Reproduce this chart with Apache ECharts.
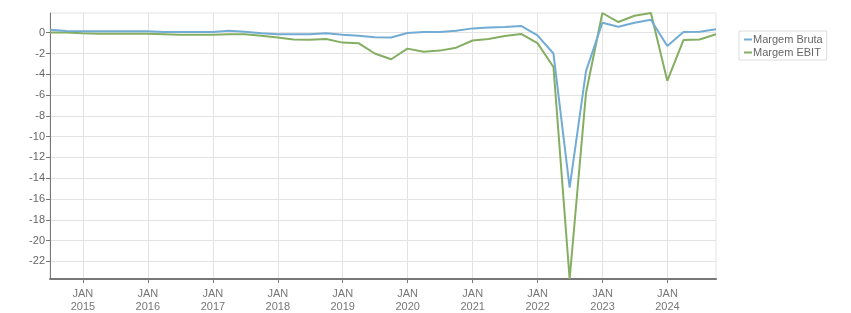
<!DOCTYPE html>
<html>
<head>
<meta charset="utf-8">
<script src="https://cdn.jsdelivr.net/npm/echarts@6/dist/echarts.min.js"></script>
<style>
html,body{margin:0;padding:0;background:#fff;}
#chart{width:851px;height:313px;}
</style>
</head>
<body>
<div id="chart"></div>
<script>
// Quarter-end dates
var dates = [
  '2014-06-30','2014-09-30','2014-12-31',
  '2015-03-31','2015-06-30','2015-09-30','2015-12-31',
  '2016-03-31','2016-06-30','2016-09-30','2016-12-31',
  '2017-03-31','2017-06-30','2017-09-30','2017-12-31',
  '2018-03-31','2018-06-30','2018-09-30','2018-12-31',
  '2019-03-31','2019-06-30','2019-09-30','2019-12-31',
  '2020-03-31','2020-06-30','2020-09-30','2020-12-31',
  '2021-03-31','2021-06-30','2021-09-30','2021-12-31',
  '2022-03-31','2022-06-30','2022-09-30','2022-12-31',
  '2023-03-31','2023-06-30','2023-09-30','2023-12-31',
  '2024-03-31','2024-06-30','2024-09-30'
];
var margemBruta = [
  0.28, 0.16, 0.15,
  0.15, 0.15, 0.15, 0.15,
  0.07, 0.07, 0.07, 0.07,
  0.20, 0.10, -0.05, -0.15,
  -0.15, -0.15, -0.06, -0.19,
  -0.30, -0.44, -0.46, -0.02,
  0.07, 0.08, 0.20, 0.42,
  0.50, 0.55, 0.65, -0.25,
  -2.0, -14.9, -3.7, 0.96,
  0.58, 0.96, 1.25, -1.27,
  0.08, 0.10, 0.33
];
var margemEBIT = [
  0.03, 0.03, -0.05,
  -0.10, -0.10, -0.10, -0.10,
  -0.15, -0.20, -0.20, -0.20,
  -0.15, -0.15, -0.30, -0.45,
  -0.65, -0.67, -0.60, -0.95,
  -1.0, -2.0, -2.55, -1.53,
  -1.82, -1.72, -1.44, -0.75,
  -0.60, -0.32, -0.12, -1.0,
  -3.3, -23.7, -5.8, 1.9,
  1.03, 1.63, 1.9, -4.63,
  -0.70, -0.65, -0.15
];
var yearTicks = [2015, 2016, 2017, 2018, 2019, 2020, 2021, 2022, 2023, 2024];
var yTicks = [0, -2, -4, -6, -8, -10, -12, -14, -16, -18, -20, -22];
var seriesNames = ['Margem Bruta', 'Margem EBIT'];
var colors = ['#72acd4', '#84ae62'];

function toTime(s) {
  var p = s.split('-');
  return new Date(+p[0], +p[1] - 1, +p[2]).getTime();
}
var times = dates.map(toTime);
var xTickValues = yearTicks.map(function (y) { return new Date(y, 0, 1).getTime(); });
function pairs(vals) {
  return vals.map(function (v, i) { return [times[i], v]; });
}
var allVals = margemBruta.concat(margemEBIT);
var yMin = Math.min.apply(null, allVals);
var yMax = Math.max.apply(null, allVals);

var chart = echarts.init(document.getElementById('chart'));
chart.setOption({
  animation: false,
  color: colors,
  textStyle: { fontFamily: 'Liberation Sans, Arial, sans-serif' },
  grid: {
    left: 50, right: 135, top: 13, bottom: 33,
    show: true, borderColor: '#e3e3e3', borderWidth: 1
  },
  legend: {
    orient: 'vertical',
    left: 739, top: 31,
    padding: [3, 4, 2, 5],
    itemGap: 2,
    itemWidth: 8, itemHeight: 2,
    icon: 'rect',
    borderColor: '#dddddd', borderWidth: 1,
    textStyle: { color: '#666', fontSize: 11, padding: [0, 0, 0, -4] },
    data: seriesNames
  },
  xAxis: {
    type: 'value',
    min: times[0],
    max: times[times.length - 1],
    axisLine: { show: true, onZero: false, lineStyle: { color: '#777', width: 2 } },
    axisTick: { show: true, length: 4, lineStyle: { color: '#777' }, customValues: xTickValues },
    axisLabel: {
      customValues: xTickValues,
      color: '#777', fontSize: 11, lineHeight: 13, margin: 8,
      formatter: function (val) { return 'JAN\n' + new Date(val).getFullYear(); }
    },
    splitLine: { show: true, lineStyle: { color: '#e3e3e3' } }
  },
  yAxis: {
    type: 'value',
    min: yMin, max: yMax,
    axisLine: { show: true, onZero: false, lineStyle: { color: '#777', width: 1 } },
    axisTick: { show: true, length: 4, lineStyle: { color: '#777' }, customValues: yTicks },
    axisLabel: { customValues: yTicks, color: '#666', fontSize: 11, margin: 5 },
    splitLine: { show: true, lineStyle: { color: '#e3e3e3' } }
  },
  series: [
    { name: seriesNames[0], type: 'line', data: pairs(margemBruta), showSymbol: false, symbol: 'none', lineStyle: { width: 2 }, z: 3 },
    { name: seriesNames[1], type: 'line', data: pairs(margemEBIT), showSymbol: false, symbol: 'none', lineStyle: { width: 2 }, z: 2 }
  ]
});
</script>
</body>
</html>
